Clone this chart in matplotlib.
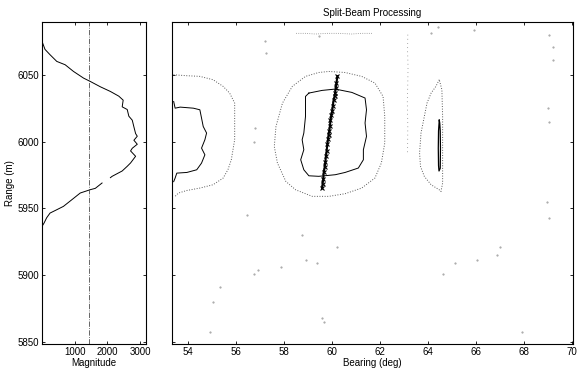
import matplotlib
matplotlib.use('Agg')
import matplotlib.pyplot as plt
import numpy as np

plt.rcParams['font.family'] = ['Liberation Sans', 'DejaVu Sans']
plt.rcParams['font.size'] = 7

# magnitude profile (magnitude, range)
mag = [0, 0, 92, 246, 452, 708, 963, 1271, 1477, 1785, 2092, 2348, 2482, 2452,
       2606, 2655, 2760, 2810, 2862, 2913, 2810, 2913, 2760, 2708, 2862, 2708,
       2606, 2452, 2144, 2092, np.nan, 1836, 1630, 1477, 1169, 913, 655, 452,
       246, 143, 62, 0, 0]
rng = [6090, 6075, 6069, 6065, 6060, 6057.5, 6052.5, 6047.5, 6045, 6041,
       6037.5, 6034, 6031, 6026, 6024, 6019, 6016, 6011, 6006, 6004, 6001,
       5998, 5995, 5993, 5989, 5984, 5981.5, 5978, 5974, 5973, np.nan, 5969,
       5965, 5964, 5961.5, 5956.5, 5951.5, 5949, 5946.5, 5943, 5939, 5936.5,
       5848]
thresh = 1440

# contour lines (bearing, range)
outer_l_b = [53.39, 53.95, 54.49, 55.04, 55.46, 55.73, 55.94, 55.94, 55.94, 55.80,
             55.66, 55.46, 55.04, 54.49, 53.95, 53.60, 53.46]
outer_l_r = [6050, 6049.3, 6048.8, 6046.3, 6041.3, 6036.3, 6028.8, 6016.3, 6001.4,
             5986.4, 5979, 5972.7, 5967.7, 5965.2, 5963.4, 5961.5, 5959]
inner_l_b = [53.40, 53.46, 53.67, 54.22, 54.49, 54.56, 54.63, 54.77, 54.70, 54.56,
             54.70, 54.56, 54.36, 53.95, 53.53, 53.46, 53.40]
inner_l_r = [6030, 6025, 6025.8, 6025, 6023.8, 6017.6, 6011.3, 6006.4, 6001.4,
             5995.1, 5990.1, 5983.9, 5978.9, 5976.9, 5976.4, 5972.7, 5970]

outer_c_b = [59.86, 60.54, 61.23, 61.78, 62.12, 62.19, 62.19, 62.05, 61.78, 61.23,
             60.54, 59.86, 59.17, 58.48, 58.07, 57.72, 57.59, 57.66, 57.93, 58.34,
             58.89, 59.44, 59.86]
outer_c_r = [6052.5, 6051.7, 6048.8, 6043.8, 6033.8, 6018.9, 5998.9, 5984, 5972.7,
             5965.2, 5961, 5959, 5959, 5963.9, 5970.2, 5984, 5996.3, 6011.3, 6028.8,
             6041.3, 6048.8, 6051.7, 6052.5]
inner_c_b = [59.03, 59.58, 60.13, 60.82, 61.37, 61.43, 61.37, 61.43, 61.30, 61.30,
             61.09, 60.54, 60.13, 59.44, 59.03, 58.82, 58.69, 58.82, 58.75, 58.82,
             58.89, 58.89, 59.03]
inner_c_r = [6036.3, 6038.3, 6039.3, 6036.8, 6032.6, 6023.8, 6013.9, 6003.9, 5993.9,
             5986.4, 5980.2, 5976.9, 5975.2, 5974, 5974.4, 5978.9, 5986.4, 5993.9,
             6001.4, 6006.4, 6018.9, 6033.8, 6036.3]

outer_r_b = [64.46, 64.32, 64.12, 63.95, 63.84, 63.70, 63.64, 63.68, 63.84, 64.12,
             64.46, 64.53, 64.60, 64.60, 64.60, 64.57, 64.46]
outer_r_r = [6046.3, 6041.3, 6036.3, 6028.8, 6018.9, 6006.4, 5991.4, 5981.4, 5973.9,
             5967.7, 5963.9, 5962.6, 5968.9, 5993.9, 6018.9, 6038.8, 6046.3]
inner_r_b = [64.46, 64.43, 64.42, 64.43, 64.45, 64.50, 64.51, 64.50, 64.48, 64.46]
inner_r_r = [6016, 6008, 5995, 5982, 5978, 5980, 5995, 6008, 6014, 6016]

# split-beam detections (bearing, range)
det_b = [60.22, 60.18, 60.15, 60.12, 60.10, 60.06, 60.03, 60.00, 59.97, 59.93,
         59.91, 59.88, 59.85, 59.83, 59.80, 59.77, 59.74, 59.72, 59.69, 59.65,
         59.63, 59.60, 59.58]
det_r = [6049, 6044, 6040, 6036, 6034, 6031, 6027, 6023, 6020, 6016, 6012, 6008,
         6005, 6002, 5998, 5993, 5989, 5985, 5981, 5977, 5972, 5968, 5965]

# faint low level contour bits
faint_b = [58.5, 58.9, 59.3, 59.8, 60.3, 60.8, 61.2, 61.7]
faint_r = [6081, 6081, 6080.5, 6081, 6081, 6080.5, 6081, 6081]
vline_b = [63.15, 63.14, 63.16, 63.15, 63.13, 63.15, 63.14]
vline_r = [6080, 6068, 6056, 6044, 6030, 6012, 5992]
noise_b = [56.76, 56.93, 57.88, 58.91, 59.36, 55.32, 55.03, 54.91, 59.57, 59.65,
           64.60, 65.10, 66.04, 66.87, 67.90, 56.47, 58.74, 60.19, 66.99, 69.01,
           68.93, 59.44, 64.10, 64.40, 65.90, 69.20, 69.20, 69.05, 57.20, 57.25,
           56.80, 56.75, 69.00, 69.05]
noise_r = [5901, 5904, 5906, 5911.5, 5909.3, 5891.3, 5880, 5857.6, 5868.1, 5865.1,
           5901, 5909.3, 5911.5, 5915.3, 5857.6, 5945.2, 5930.2, 5921.3, 5921.3,
           5943, 5955, 6078.7, 6081, 6086, 6083.7, 6071, 6061, 6080, 6075, 6066,
           6010, 6000, 6025, 6015]

fig = plt.figure(figsize=(5.79, 3.72), dpi=100)
ax1 = fig.add_axes([42 / 579, 28 / 372, 104 / 579, 322 / 372])
ax2 = fig.add_axes([172 / 579, 28 / 372, 401 / 579, 322 / 372])

ax1.plot(mag, rng, color='k', lw=0.7)
ax1.axvline(thresh, color='0.3', lw=0.6, ls='-.')
ax1.set_xlim(0, 3180)
ax1.set_ylim(5848.5, 6089.5)
ax1.set_xticks([1000, 2000, 3000])
ax1.set_yticks([5850, 5900, 5950, 6000, 6050])
ax1.set_xlabel('Magnitude', labelpad=1)
ax1.set_ylabel('Range (m)', labelpad=2)

ax2.plot(outer_l_b, outer_l_r, color='0.35', lw=0.7, ls=':')
ax2.plot(inner_l_b, inner_l_r, color='k', lw=0.7)
ax2.plot(outer_c_b, outer_c_r, color='0.35', lw=0.7, ls=':')
ax2.plot(inner_c_b, inner_c_r, color='k', lw=0.7)
ax2.plot(outer_r_b, outer_r_r, color='0.35', lw=0.7, ls=':')
ax2.plot(inner_r_b, inner_r_r, color='k', lw=0.9)
ax2.plot(det_b, det_r, color='k', lw=1.5)
ax2.plot(det_b, det_r, ls='none', marker='x', ms=3, mew=0.8, color='k')
ax2.plot(faint_b, faint_r, color='0.55', lw=0.6, ls=':')
ax2.plot(vline_b, vline_r, color='0.55', lw=0.6, ls=(0, (1, 4)))
ax2.plot(noise_b, noise_r, ls='none', marker='.', ms=1.0, color='0.6')
ax2.set_xlim(53.33, 70.03)
ax2.set_ylim(5848.5, 6089.5)
ax2.set_xticks(range(54, 71, 2))
ax2.set_yticks([5850, 5900, 5950, 6000, 6050])
ax2.set_yticklabels([])
ax2.set_xlabel('Bearing (deg)', labelpad=1)
ax2.set_title('Split-Beam Processing', fontsize=7, pad=4)

for ax in (ax1, ax2):
    ax.tick_params(direction='in', top=True, right=True, length=2.5, width=0.6,
                   labelsize=7, pad=2)
    for s in ax.spines.values():
        s.set_linewidth(0.8)

fig.savefig('out.png', dpi=100)
